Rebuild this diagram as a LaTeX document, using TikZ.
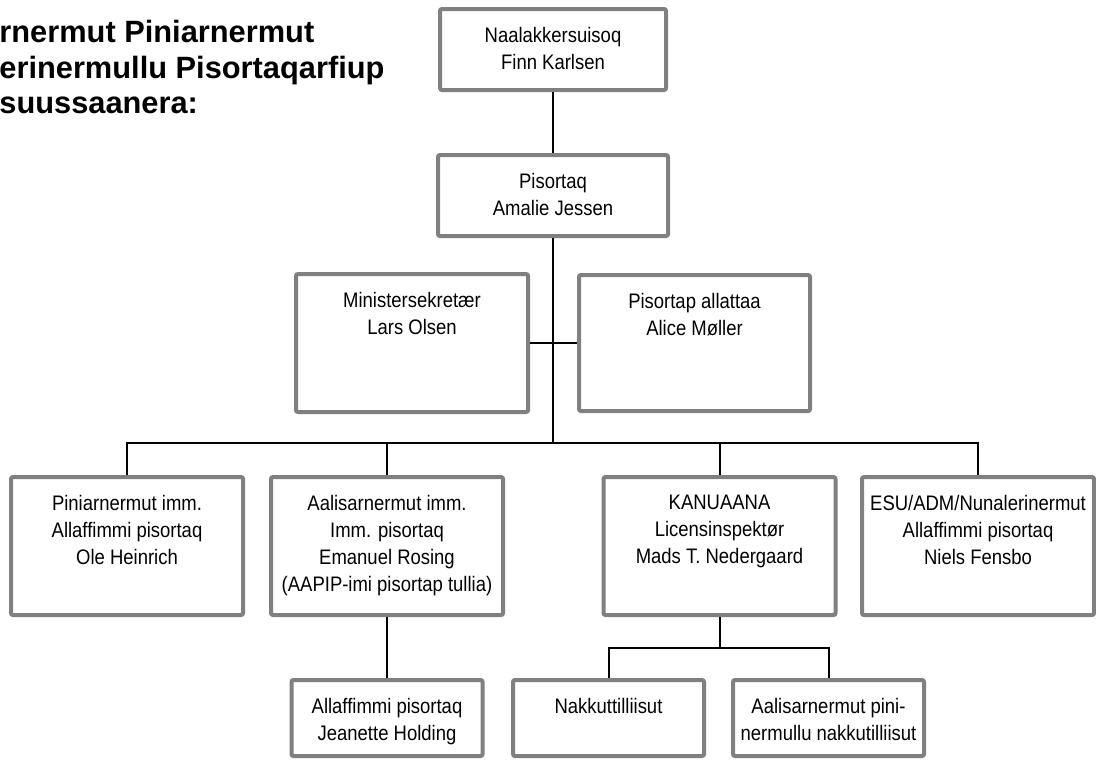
\documentclass[tikz,border=0pt]{standalone}
\usepackage{fontspec}
\setmainfont{Liberation Sans}
\newfontfamily\narrowfont{Liberation Sans}[FakeStretch=0.88]
\definecolor{boxgray}{RGB}{128,128,128}
\newcommand{\orgbox}[3]{\parbox[c][#2][t]{#1}{\centering\vspace*{9pt}#3}}

\begin{document}
\begin{tikzpicture}[x=0.5pt,y=-0.5pt,
  unit/.style={draw=boxgray, line width=2pt, rounded corners=1pt, inner sep=0pt,
    fill=white, font=\narrowfont\fontsize{10.5}{13.5}\selectfont},
  link/.style={line width=1pt}]
  \useasboundingbox (0,0) rectangle (1096,762);

  \node [anchor=north west, inner sep=0pt, align=left,
    font=\fontsize{15.4}{17.75}\selectfont\bfseries] (title) at (-1,20)
    {rnermut Piniarnermut\\erinermullu Pisortaqarfiup\\suussaanera:};

  \node [unit] (member) at (553,49.5) {\orgbox{113pt}{40.5pt}{Naalakkersuisoq\\Finn Karlsen}};
  \node [unit] (director) at (553,195.5) {\orgbox{115pt}{40.5pt}{Pisortaq\\Amalie Jessen}};

  \node [unit] (secretary) at (412,343) {\orgbox{116pt}{69pt}{Ministersekretær\\Lars Olsen}};
  \node [unit] (assistant) at (694.5,343) {\orgbox{115.5pt}{68pt}{Pisortap allattaa\\Alice Møller}};

  \node [unit] (hunting) at (127,546) {\orgbox{116pt}{69pt}{Piniarnermut imm.\\Allaffimmi pisortaq\\Ole Heinrich}};
  \node [unit] (fishing) at (387,546) {\orgbox{116pt}{69pt}{Aalisarnermut imm.\\Imm. pisortaq\\Emanuel Rosing\\(AAPIP-imi pisortap tullia)}};
  \node [unit] (kanuaana) at (719.5,546) {\orgbox{116pt}{69pt}{KANUAANA\\Licensinspektør\\Mads T. Nedergaard}};
  \node [unit] (esu) at (978,546) {\orgbox{116pt}{69pt}{ESU/ADM/Nunalerinermut\\Allaffimmi pisortaq\\Niels Fensbo}};

  \node [unit] (holding) at (387,718) {\orgbox{95.5pt}{38pt}{Allaffimmi pisortaq\\Jeanette Holding}};
  \node [unit] (control) at (608.5,718) {\orgbox{95.5pt}{38pt}{Nakkuttilliisut}};
  \node [unit] (fishcontrol) at (828.5,718) {\orgbox{95.5pt}{38pt}{Aalisarnermut pini-\\nermullu nakkutilliisut}};

  \coordinate (bus) at (553,443);
  \coordinate (subbus) at (719.5,648);

  \draw [link] (member) -- (director);
  \draw [link] (director) -- (bus);
  \draw [link] (secretary) -- (assistant);
  \draw [link] (hunting.north) |- (bus) -| (esu.north);
  \draw [link] (fishing.north) -- (fishing.north |- bus);
  \draw [link] (kanuaana.north) -- (kanuaana.north |- bus);
  \draw [link] (fishing) -- (holding);
  \draw [link] (kanuaana) -- (subbus);
  \draw [link] (control.north) |- (subbus) -| (fishcontrol.north);
\end{tikzpicture}
\end{document}
